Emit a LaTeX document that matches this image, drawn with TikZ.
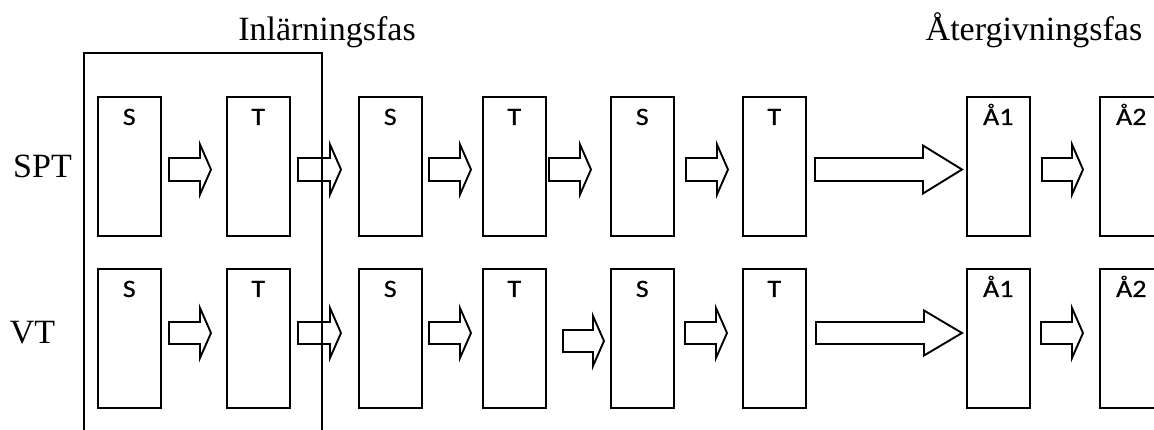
\documentclass[tikz,border=0pt]{standalone}
\usepackage{fontspec}
\setmainfont{Liberation Serif}
\newfontfamily\boxfont[FakeBold=0.5]{Carlito}
\usetikzlibrary{calc}

% block arrow: tail, tip, head depth, shaft half height, head half height
\newcommand{\blockarrow}[5]{%
  \draw[blockarr] ($(#1)+(0,-#4)$) -- ($(#2)+(-#3,-#4)$) -- ($(#2)+(-#3,-#5)$)
    -- (#2) -- ($(#2)+(-#3,#5)$) -- ($(#2)+(-#3,#4)$) -- ($(#1)+(0,#4)$) -- cycle;}

\tikzset{
  stagebox/.style={draw, line width=2pt, minimum width=62.5pt, minimum height=139pt,
    inner sep=0pt, anchor=north west},
  boxtext/.style={font=\boxfont\fontsize{25}{30}\selectfont, inner sep=0pt,
    anchor=base, xscale=1.12, transform shape},
  phase/.style={font=\fontsize{34}{40}\selectfont, inner sep=0pt, anchor=base},
  framing/.style={draw, line width=1.3pt},
  blockarr/.style={draw, line width=1.9pt, line join=miter},
}
% stage box with its tag lettered near the top
\newcommand{\stage}[4]{% name, x, y, tag
  \node[stagebox] (#1) at (#2,#3) {};
  \node[boxtext] (#1t) at ($(#1.north)+(0,29)$) {#4};}

\begin{document}
\begin{tikzpicture}[x=1pt, y=-1pt]
  \path[use as bounding box] (0,0) rectangle (1154,430);
  \clip (0,0) rectangle (1154,430);

  % headings and row names
  \node[phase] (learn) at (327,41) {Inlärningsfas};
  \node[phase] (recall) at (1034,41) {Återgivningsfas};
  \node[phase] (spt) at (42.5,178) {SPT};
  \node[phase] (vt) at (32.5,343) {VT};

  % upper row (SPT)
  \stage{s1}{97}{96}{S}
  \stage{s2}{226}{96}{T}
  \stage{s3}{358}{96}{S}
  \stage{s4}{482}{96}{T}
  \stage{s5}{610}{96}{S}
  \stage{s6}{742}{96}{T}
  \stage{s7}{966}{96}{Å1}
  \stage{s8}{1099}{96}{Å2}

  % lower row (VT)
  \stage{v1}{97}{268}{S}
  \stage{v2}{226}{268}{T}
  \stage{v3}{358}{268}{S}
  \stage{v4}{482}{268}{T}
  \stage{v5}{610}{268}{S}
  \stage{v6}{742}{268}{T}
  \stage{v7}{966}{268}{Å1}
  \stage{v8}{1099}{268}{Å2}

  % arrow ends, upper row
  \coordinate (sa1) at (169,169.5);  \coordinate (sb1) at (211,169.5);
  \coordinate (sa2) at (298,169.5);  \coordinate (sb2) at (341,169.5);
  \coordinate (sa3) at (429,169.5);  \coordinate (sb3) at (471,169.5);
  \coordinate (sa4) at (549,169.5);  \coordinate (sb4) at (591,169.5);
  \coordinate (sa5) at (686,169.5);  \coordinate (sb5) at (728,169.5);
  \coordinate (sa6) at (815,169.5);  \coordinate (sb6) at (962,169.5);
  \coordinate (sa7) at (1042,169.5); \coordinate (sb7) at (1083,169.5);

  % arrow ends, lower row
  \coordinate (va1) at (169,333);  \coordinate (vb1) at (211,333);
  \coordinate (va2) at (298,333);  \coordinate (vb2) at (341,333);
  \coordinate (va3) at (429,333);  \coordinate (vb3) at (471,333);
  \coordinate (va4) at (563,341);  \coordinate (vb4) at (604,341);
  \coordinate (va5) at (685,333);  \coordinate (vb5) at (727,333);
  \coordinate (va6) at (816,333);  \coordinate (vb6) at (962,333);
  \coordinate (va7) at (1041,333); \coordinate (vb7) at (1083,333);

  \foreach \i in {1,...,5,7} {
    \blockarrow{sa\i}{sb\i}{11}{11.5}{25}
    \blockarrow{va\i}{vb\i}{11}{11}{25}
  }
  \blockarrow{sa6}{sb6}{39}{11.5}{24}
  \blockarrow{va6}{vb6}{38}{11}{22.5}

  % learning phase frame, open at the bottom
  \coordinate (fl) at (84,440);
  \coordinate (fr) at (322,440);
  \draw[framing] (fl) |- (322,53) -- (fr);
\end{tikzpicture}
\end{document}
